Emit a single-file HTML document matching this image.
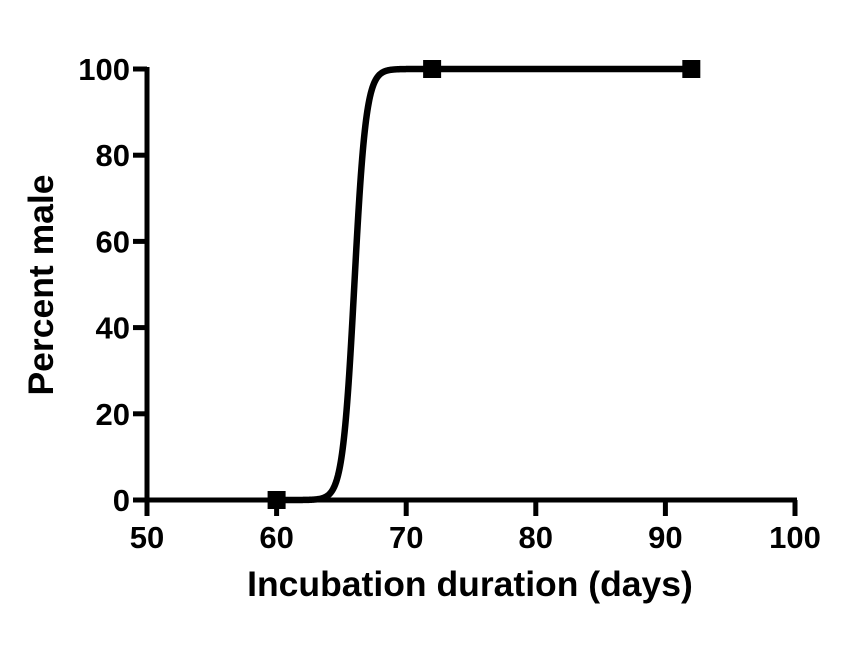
<!DOCTYPE html>
<html><head><meta charset="utf-8"><style>
html,body{margin:0;padding:0;background:#fff;}
svg text{font-family:"Liberation Sans",Arial,sans-serif;font-weight:bold;fill:#000;}
</style></head><body>
<svg id="chart" width="856" height="642" viewBox="0 0 856 642" xmlns="http://www.w3.org/2000/svg">
<g id="axes"></g><g id="marks"></g>
<text x="470" y="596" font-size="35.5" text-anchor="middle">Incubation duration (days)</text>
<text transform="translate(53,285) rotate(-90)" font-size="35.5" text-anchor="middle">Percent male</text>
</svg>
<script>
const xTicks=[50,60,70,80,90,100];
const yTicks=[0,20,40,60,80,100];
const pointX=[60,72,92];
const pointY=[0,100,100];
const curveMid=66;
const curveSlope=0.45;
const curveTop=100;
const curveRange=[60,92];

const ns="http://www.w3.org/2000/svg";
const X=v=>147+(v-50)*(795-147)/50;
const Y=v=>500-v*(500-69)/100;
function mk(tag,attrs,parent){const e=document.createElementNS(ns,tag);for(const k in attrs)e.setAttribute(k,attrs[k]);parent.appendChild(e);return e;}
const axes=document.getElementById('axes'),marks=document.getElementById('marks');
let l=mk('line',{x1:X(50),y1:Y(0),x2:X(100)+2,y2:Y(0),stroke:'#000','stroke-width':5},axes);


l=mk('line',{x1:X(50),y1:Y(0)+2,x2:X(50),y2:Y(100)-2,stroke:'#000','stroke-width':5},axes);


xTicks.forEach(v=>{
 const t=mk('line',{x1:X(v),y1:Y(0),x2:X(v),y2:Y(0)+16,stroke:'#000','stroke-width':5},axes);
 
 
 const tx=mk('text',{x:X(v),y:548,'font-size':31,'text-anchor':'middle'},axes);
 tx.textContent=v;
 
 
});
yTicks.forEach(v=>{
 const t=mk('line',{x1:X(50)-14,y1:Y(v),x2:X(50),y2:Y(v),stroke:'#000','stroke-width':5},axes);
 
 
 const tx=mk('text',{x:X(50)-17,y:Y(v)+11,'font-size':31,'text-anchor':'end'},axes);
 tx.textContent=v;
 
 
});
let d='';
for(let i=0;i<=640;i++){const x=curveRange[0]+(curveRange[1]-curveRange[0])*i/640;const y=curveTop/(1+Math.exp((curveMid-x)/curveSlope));d+=(i?'L':'M')+X(x).toFixed(2)+' '+Y(y).toFixed(2);}
const c=mk('path',{d:d,fill:'none',stroke:'#000','stroke-width':6.5,'stroke-linejoin':'round'},marks);


pointX.forEach((x,i)=>{
 const r=mk('rect',{x:X(x)-9,y:Y(pointY[i])-9,width:18,height:18,fill:'#000'},marks);
 
 
});
</script>
</body></html>
